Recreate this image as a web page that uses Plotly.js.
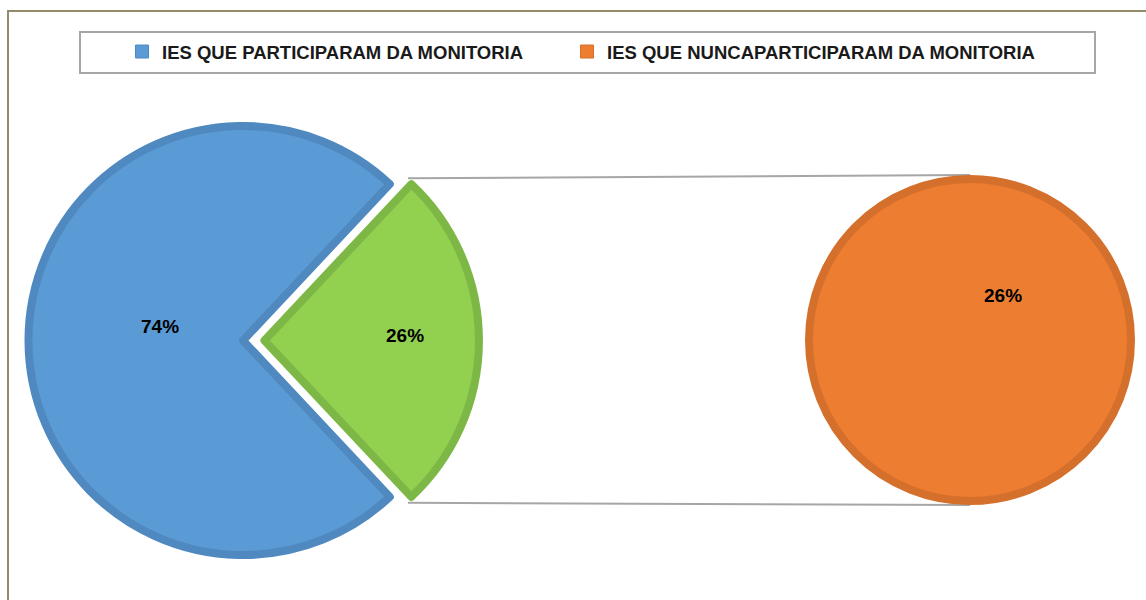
<!DOCTYPE html>
<html>
<head>
<meta charset="utf-8">
<script src="https://cdn.plot.ly/plotly-3.0.1.min.js"></script>
<style>html,body{margin:0;padding:0;background:#fff;}#chart{width:1146px;height:600px;}</style>
</head>
<body>
<div id="chart"></div>
<script>
// ---- data ----
const categories = ["IES QUE PARTICIPARAM DA MONITORIA", "IES QUE NUNCAPARTICIPARAM DA MONITORIA"];
const shares = [74, 26];
const secondaryLabels = [categories[1]];
const secondaryValues = [shares[1]];

// ---- style / geometry (pixels) ----
const W = 1146, H = 600;
const mainC = {x: 243, y: 340.5, r: 214.5};
const pullOut = 0.1;
const secC = {x: 970, y: 340, r: 161};
const lw = 8;
const px = x => x / W;
const py = y => 1 - y / H;
const labelFont = {family: 'Liberation Sans, Arial, sans-serif', size: 19, weight: 'bold', color: '#000'};
const legendFont = {family: 'Liberation Sans, Arial, sans-serif', size: 18.5, weight: 'bold', color: '#1a1a1a'};
const fillColors = ['#5B9BD5', '#92D050', '#ED7D31'];
const lineColors = ['#4F89C0', '#7DB846', '#D5702C'];

const total = shares.reduce((a, b) => a + b, 0);
const pctText = shares.map(v => Math.round(v / total * 100) + '%');
const secondaryText = [pctText[1]];
const halfDeg = shares[1] / total * 180;
const box = 2 * mainC.r * (1 + pullOut);

const mainPie = {
  type: 'pie',
  values: shares,
  labels: categories,
  sort: false,
  direction: 'clockwise',
  rotation: 90 + halfDeg,
  pull: [0, pullOut],
  domain: {x: [px(mainC.x - box / 2 - 7), px(mainC.x + box / 2 + 7)], y: [py(mainC.y + box / 2), py(mainC.y - box / 2)]},
  marker: {colors: [fillColors[0], fillColors[1]], line: {color: [lineColors[0], lineColors[1]], width: lw}},
  textinfo: 'none',
  showlegend: false,
  hoverinfo: 'label+percent'
};

const secPie = {
  type: 'pie',
  values: secondaryValues,
  labels: secondaryLabels,
  text: secondaryText,
  sort: false,
  domain: {x: [px(secC.x - secC.r), px(secC.x + secC.r)], y: [py(secC.y + secC.r), py(secC.y - secC.r)]},
  marker: {colors: [fillColors[2]], line: {color: [lineColors[2]], width: lw}},
  textinfo: 'none',
  showlegend: false,
  hoverinfo: 'label+text'
};

// legend-only entries (no visible data)
const legendEntry1 = {
  type: 'scatter', x: [null], y: [null], mode: 'markers', name: categories[0], legend: 'legend',
  marker: {symbol: 'square', size: 13, color: fillColors[0], line: {color: lineColors[0], width: 1}}, hoverinfo: 'skip'
};
const legendEntry2 = {
  type: 'scatter', x: [null], y: [null], mode: 'markers', name: categories[1], legend: 'legend2',
  marker: {symbol: 'square', size: 13, color: fillColors[2], line: {color: lineColors[2], width: 1}}, hoverinfo: 'skip'
};

// connector geometry computed from pie geometry
const gx = mainC.x + pullOut * mainC.r;
const R = mainC.r + lw / 2;
const a = halfDeg * Math.PI / 180;
const cornerTop = {x: gx + R * Math.cos(a) - 6, y: mainC.y - R * Math.sin(a) - 3};
const cornerBot = {x: gx + R * Math.cos(a) - 6, y: mainC.y + R * Math.sin(a) + 3};
const secTop = {x: secC.x, y: secC.y - secC.r - lw / 2};
const secBot = {x: secC.x, y: secC.y + secC.r + lw / 2};

const shapes = [
  {type: 'rect', xref: 'paper', yref: 'paper', x0: px(8), y0: py(11), x1: px(W + 20), y1: py(H + 20), line: {color: '#948A6C', width: 2}, layer: 'below'},
  {type: 'rect', xref: 'paper', yref: 'paper', x0: px(80), y0: py(32), x1: px(1095), y1: py(73), line: {color: '#A6A6A6', width: 2}, fillcolor: '#fff', layer: 'below'},
  {type: 'line', xref: 'paper', yref: 'paper', x0: px(cornerTop.x), y0: py(cornerTop.y), x1: px(secTop.x), y1: py(secTop.y), line: {color: '#A6A6A6', width: 2}, layer: 'below'},
  {type: 'line', xref: 'paper', yref: 'paper', x0: px(cornerBot.x), y0: py(cornerBot.y), x1: px(secBot.x), y1: py(secBot.y), line: {color: '#A6A6A6', width: 2}, layer: 'below'}
];

const ann = (x, y, t) => ({xref: 'paper', yref: 'paper', x: px(x), y: py(y), xanchor: 'center', yanchor: 'middle', text: t, showarrow: false, font: labelFont});
const annotations = [
  ann(mainC.x - 83, mainC.y - 14, pctText[0]),
  ann(gx + 141, mainC.y - 5, pctText[1]),
  ann(secC.x + 33, secC.y - 45, secondaryText[0])
];

const legendBase = {orientation: 'h', xanchor: 'left', y: py(52), yanchor: 'middle', font: legendFont, bgcolor: 'rgba(0,0,0,0)', borderwidth: 0};

const layout = {
  width: W, height: H,
  margin: {l: 0, r: 0, t: 0, b: 0},
  paper_bgcolor: '#fff',
  plot_bgcolor: 'rgba(0,0,0,0)',
  showlegend: true,
  xaxis: {visible: false},
  yaxis: {visible: false},
  legend: Object.assign({}, legendBase, {x: px(122)}),
  legend2: Object.assign({}, legendBase, {x: px(567)}),
  shapes: shapes,
  annotations: annotations
};

Plotly.newPlot('chart', [mainPie, secPie, legendEntry1, legendEntry2], layout, {displayModeBar: false, staticPlot: true});
</script>
</body>
</html>
